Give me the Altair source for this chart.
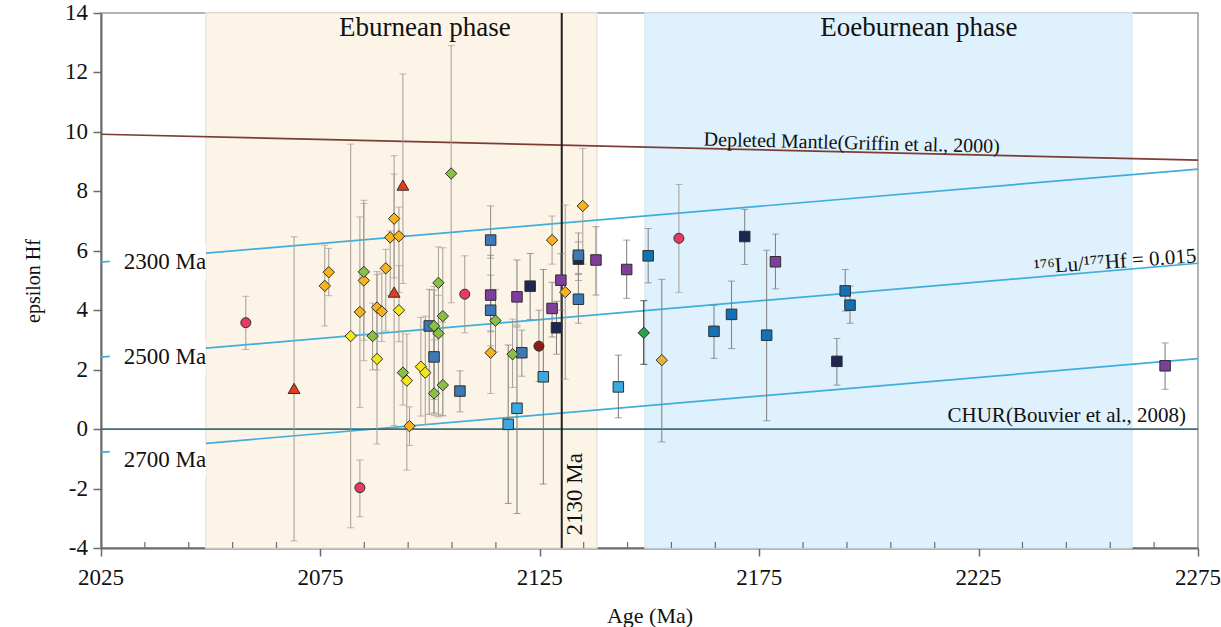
import altair as alt
import pandas as pd

FONT = "Liberation Serif"
W, H = 1097, 535

# ---- axes -------------------------------------------------------------
AGE_DOMAIN = [2025, 2275]
EPS_DOMAIN = [-4, 14]
AGE_TICKS = [2025, 2075, 2125, 2175, 2225, 2275]
AGE_MINOR = [a for a in range(2025, 2276, 10) if a not in AGE_TICKS]
EPS_TICKS = [-4, -2, 0, 2, 4, 6, 8, 10, 12, 14]

# ---- magmatic phases (shaded bands) -----------------------------------
PHASE_NAMES = ["Eburnean phase", "Eoeburnean phase"]
PHASE_START = [2048.9, 2149.0]
PHASE_END = [2138.0, 2259.9]
PHASE_FILL = ["#fdf4e8", "#dff1fc"]
PHASE_EDGE = ["#ece4d9", "#d6e8f2"]
PHASE_LABEL_AGE = [2098.8, 2211.4]
PHASE_LABEL_EPS = [13.5, 13.5]

# ---- reference evolution lines (value at 2025 Ma and at 2275 Ma) ------
REF_NAMES = ["DM", "2300 Ma", "2500 Ma", "2700 Ma", "CHUR"]
REF_EPS_START = [9.92, 5.62, 2.42, -0.78, 0.0]
REF_EPS_END = [9.05, 8.75, 5.58, 2.37, 0.0]
REF_COLOR = ["#7c3d33", "#3eaedb", "#3eaedb", "#3eaedb", "#3d6c7a"]

MODEL_LABELS = ["2300 Ma", "2500 Ma", "2700 Ma"]
MODEL_LABEL_EPS = [5.62, 2.42, -1.04]
MODEL_LABEL_AGE = 2039.6
MODEL_MASK = [2027.0, 2048.9]

BOUNDARY_AGE = [2130]

# ---- zircon data: age, epsilon Hf, upper and lower error -------------
pink_age = [2058.0, 2084.0, 2107.9, 2156.7]
pink_eps = [3.58, -1.97, 4.54, 6.42]
pink_hi = [4.47, -1.04, 5.83, 8.23]
pink_lo = [2.68, -2.95, 3.24, 4.60]

red_age = [2069.0, 2091.8, 2093.8]
red_eps = [1.37, 4.61, 8.21]
red_hi = [6.47, 8.58, 11.95]
red_lo = [-3.76, 0.12, 4.90]

orange_age = [2076.0, 2076.9, 2084.0, 2084.9, 2087.9, 2089.0, 2089.9, 2090.9,
              2091.8, 2092.9, 2095.3, 2113.8, 2127.8, 2130.8, 2134.8]
orange_eps = [4.82, 5.28, 3.94, 5.00, 4.09, 3.96, 5.41, 6.45,
              7.08, 6.49, 0.10, 2.57, 6.36, 4.61, 7.51]
orange_hi = [6.19, 6.08, 7.14, 7.59, 5.30, 5.25, 6.05, 6.67,
             9.20, 7.47, 0.75, 3.27, 7.17, 7.54, 9.44]
orange_lo = [3.47, 4.49, 0.73, 2.30, 1.99, 2.95, 3.30, 4.50,
             5.09, 4.60, -0.55, 1.20, 5.55, 1.68, 5.55]

yellow_age = [2081.9, 2087.9, 2092.9, 2094.7, 2097.9, 2098.9]
yellow_eps = [3.13, 2.36, 4.00, 1.63, 2.10, 1.90]
yellow_hi = [9.59, 5.20, 5.50, 3.20, 3.76, 3.80]
yellow_lo = [-3.32, -0.50, 2.94, -1.38, 0.44, 0.15]

green_age = [2084.9, 2086.9, 2093.8, 2100.9, 2100.9, 2101.9, 2101.9, 2102.9,
             2102.9, 2104.8, 2114.9, 2118.8]
green_eps = [5.29, 3.13, 1.90, 3.47, 1.20, 3.22, 4.92, 3.80,
             1.48, 8.60, 3.65, 2.52]
green_hi = [7.70, 4.24, 3.30, 4.80, 3.00, 4.50, 6.13, 6.10,
            3.60, 12.90, 4.70, 3.70]
green_lo = [2.99, 1.99, 0.81, 1.00, 0.45, 0.50, 0.41, 0.45,
            0.45, 4.25, 2.60, 1.40]

navy_age = [2122.8, 2128.8, 2133.8, 2171.7, 2192.7]
navy_eps = [4.81, 3.41, 5.72, 6.48, 2.28]
navy_hi = [5.91, 4.30, 6.30, 7.39, 3.05]
navy_lo = [3.69, 2.52, 5.20, 5.54, 1.48]

steel_age = [2099.8, 2100.9, 2106.8, 2113.8, 2113.8, 2120.9, 2133.8, 2133.8]
steel_eps = [3.47, 2.43, 1.28, 6.36, 4.00, 2.57, 5.85, 4.37]
steel_hi = [4.70, 4.68, 1.96, 7.51, 5.18, 3.33, 6.60, 5.24]
steel_lo = [0.50, 0.54, 0.58, 5.75, 2.80, 1.78, 5.00, 3.56]

purple_age = [2113.8, 2119.8, 2127.8, 2129.8, 2137.8, 2144.8, 2178.7, 2267.5]
purple_eps = [4.51, 4.45, 4.06, 5.01, 5.69, 5.37, 5.63, 2.13]
purple_hi = [5.85, 5.69, 4.94, 5.90, 6.81, 6.36, 6.56, 2.90]
purple_lo = [3.30, 3.50, 3.10, 4.00, 4.51, 4.40, 4.72, 1.34]

light_age = [2117.8, 2119.8, 2125.8, 2142.9]
light_eps = [0.16, 0.70, 1.76, 1.42]
light_hi = [2.83, 3.44, 5.37, 2.49]
light_lo = [-2.50, -2.84, -1.85, 0.38]

darkred_age = [2124.8]
darkred_eps = [2.79]
darkred_hi = [4.00]
darkred_lo = [1.60]

blue_age = [2149.7, 2164.7, 2168.7, 2176.7, 2194.6, 2195.7]
blue_eps = [5.83, 3.29, 3.86, 3.16, 4.65, 4.17]
blue_hi = [6.75, 4.17, 4.98, 6.02, 5.37, 4.81]
blue_lo = [4.92, 2.38, 2.71, 0.28, 3.97, 3.56]

dkgreen_age = [2148.7]
dkgreen_eps = [3.24]
dkgreen_hi = [4.32]
dkgreen_lo = [2.18]

gold_age = [2152.8]
gold_eps = [2.32]
gold_hi = [5.04]
gold_lo = [-0.43]

# group: (shape, fill colour, error-bar colour, arrays)
GROUPS = [
    ("circle", "#e63a62", "#a29c95", pink_age, pink_eps, pink_hi, pink_lo),
    ("circle", "#8e1d18", "#8f8a85", darkred_age, darkred_eps, darkred_hi, darkred_lo),
    ("triangle-up", "#e33c1f", "#a29c95", red_age, red_eps, red_hi, red_lo),
    ("diamond", "#f8b31c", "#a29c95", orange_age, orange_eps, orange_hi, orange_lo),
    ("diamond", "#f4e61e", "#a29c95", yellow_age, yellow_eps, yellow_hi, yellow_lo),
    ("diamond", "#8abf46", "#a29c95", green_age, green_eps, green_hi, green_lo),
    ("diamond", "#29a24b", "#1a1a1a", dkgreen_age, dkgreen_eps, dkgreen_hi, dkgreen_lo),
    ("diamond", "#e6b43a", "#7d7d7d", gold_age, gold_eps, gold_hi, gold_lo),
    ("square", "#1e2654", "#7d7d7d", navy_age, navy_eps, navy_hi, navy_lo),
    ("square", "#3c79b6", "#8f8a85", steel_age, steel_eps, steel_hi, steel_lo),
    ("square", "#7d3f9b", "#7d7d7d", purple_age, purple_eps, purple_hi, purple_lo),
    ("square", "#3aa9de", "#777777", light_age, light_eps, light_hi, light_lo),
    ("square", "#1372b7", "#7d7d7d", blue_age, blue_eps, blue_hi, blue_lo),
]

rows = []
for shape, fill, bar, ages, eps, his, los in GROUPS:
    for a, e, h, l in zip(ages, eps, his, los):
        rows.append({"age": a, "eps": e, "hi": h, "lo": l,
                     "shape": shape, "fill": fill, "bar": bar})
pts = pd.DataFrame(rows)

bands = pd.DataFrame({"name": PHASE_NAMES, "start": PHASE_START, "end": PHASE_END,
                      "fill": PHASE_FILL, "edge": PHASE_EDGE,
                      "lo": EPS_DOMAIN[0], "hi": EPS_DOMAIN[1],
                      "lab_age": PHASE_LABEL_AGE, "lab_eps": PHASE_LABEL_EPS})
refs = pd.DataFrame({"name": REF_NAMES, "a0": AGE_DOMAIN[0], "a1": AGE_DOMAIN[1],
                     "e0": REF_EPS_START, "e1": REF_EPS_END, "color": REF_COLOR})
model_lab = pd.DataFrame({"label": MODEL_LABELS, "eps": MODEL_LABEL_EPS,
                          "age": MODEL_LABEL_AGE,
                          "m0": MODEL_MASK[0], "m1": MODEL_MASK[1]})
model_lab["e_lo"] = model_lab["eps"] - 0.6
model_lab["e_hi"] = model_lab["eps"] + 0.6
minor = pd.DataFrame({"age": AGE_MINOR})
boundary = pd.DataFrame({"age": BOUNDARY_AGE, "lo": EPS_DOMAIN[0], "hi": EPS_DOMAIN[1]})
x_tick_df = pd.DataFrame({"v": AGE_TICKS, "t": [str(v) for v in AGE_TICKS]})
y_tick_df = pd.DataFrame({"v": EPS_TICKS, "t": [str(v) for v in EPS_TICKS]})

xs = alt.Scale(domain=AGE_DOMAIN, nice=False, zero=False)
ys = alt.Scale(domain=EPS_DOMAIN, nice=False, zero=False)

# axes keep their lines, ticks and titles; tick labels are drawn as text below
x_axis = alt.Axis(values=AGE_TICKS, labels=False, grid=False,
                  tickSize=8, tickWidth=1.5, tickColor="#6b6b6b",
                  domainColor="#6b6b6b", domainWidth=2,
                  title="Age (Ma)", titleFont=FONT, titleFontSize=22,
                  titleFontWeight="normal", titleColor="#111111",
                  titleBaseline="middle", titleY=67)
y_axis = alt.Axis(values=EPS_TICKS, labels=False, grid=False,
                  tickSize=8, tickWidth=1.5, tickColor="#6b6b6b",
                  domainColor="#6b6b6b", domainWidth=2,
                  title="epsilon Hf", titleFont=FONT, titleFontSize=20,
                  titleFontWeight="normal", titleColor="#111111",
                  titleAngle=270, titleAlign="center", titleBaseline="middle",
                  titleX=-68, titleY=H / 2)


def X(field):
    return alt.X(field, type="quantitative", scale=xs, axis=x_axis)


def Y(field):
    return alt.Y(field, type="quantitative", scale=ys, axis=y_axis)


band_layer = alt.Chart(bands).mark_rect(strokeWidth=1.5).encode(
    x=X("start"), x2="end", y=Y("lo"), y2="hi",
    fill=alt.Fill("fill:N", scale=None), stroke=alt.Stroke("edge:N", scale=None))

band_text = alt.Chart(bands).mark_text(
    font=FONT, fontSize=27, color="#111111", baseline="middle", align="center"
).encode(x=X("lab_age"), y=Y("lab_eps"), text="name:N")

ref_layer = alt.Chart(refs).mark_rule(strokeWidth=1.7).encode(
    x=X("a0"), x2="a1", y=Y("e0"), y2="e1", color=alt.Color("color:N", scale=None))

boundary_layer = alt.Chart(boundary).mark_rule(strokeWidth=2, color="#1f1f1f").encode(
    x=X("age"), y=Y("lo"), y2="hi")

mask_layer = alt.Chart(model_lab).mark_rect(color="white").encode(
    x=X("m0"), x2="m1", y=Y("e_lo"), y2="e_hi")

model_text = alt.Chart(model_lab).mark_text(
    font=FONT, fontSize=23, color="#111111", align="center", baseline="middle"
).encode(x=X("age"), y=Y("eps"), text="label:N")

minor_ticks = alt.Chart(minor).mark_rule(color="#6b6b6b", strokeWidth=1.2).encode(
    x=X("age"), y=alt.value(H - 6), y2=alt.value(H))

x_tick_labels = alt.Chart(x_tick_df).mark_text(
    font=FONT, fontSize=23, color="#111111", align="center", baseline="middle"
).encode(x=X("v"), y=alt.value(H + 30), text="t:N")

y_tick_labels = alt.Chart(y_tick_df).mark_text(
    font=FONT, fontSize=23, color="#111111", align="right", baseline="middle"
).encode(x=alt.value(-13), y=Y("v"), text="t:N")

err_rule = alt.Chart(pts).mark_rule(strokeWidth=1).encode(
    x=X("age"), y=Y("lo"), y2="hi", color=alt.Color("bar:N", scale=None))
cap_hi = alt.Chart(pts).mark_tick(orient="horizontal", size=7, thickness=1).encode(
    x=X("age"), y=Y("hi"), color=alt.Color("bar:N", scale=None))
cap_lo = alt.Chart(pts).mark_tick(orient="horizontal", size=7, thickness=1).encode(
    x=X("age"), y=Y("lo"), color=alt.Color("bar:N", scale=None))

MARK_SIZE = {"circle": 100, "triangle-up": 140, "diamond": 130, "square": 110}
point_layers = []
for shp in ["square", "diamond", "circle", "triangle-up"]:
    sub = pts[pts["shape"] == shp]
    point_layers.append(
        alt.Chart(sub).mark_point(shape=shp, filled=True, size=MARK_SIZE[shp],
                                  opacity=1, fillOpacity=1, stroke="#2e2e2e",
                                  strokeWidth=1, strokeOpacity=1).encode(
            x=X("age"), y=Y("eps"), fill=alt.Fill("fill:N", scale=None)))

# annotations along the reference curves
dm_text = alt.Chart(pd.DataFrame({"age": [2196.1], "eps": [9.62],
                                  "t": ["Depleted Mantle(Griffin et al., 2000)"]})).mark_text(
    font=FONT, fontSize=20, color="#111111", angle=1.4, align="center", baseline="middle"
).encode(x=X("age"), y=Y("eps"), text="t:N")

lu_text = alt.Chart(pd.DataFrame({"age": [2256.1], "eps": [5.62],
                                  "t": ["¹⁷⁶Lu/¹⁷⁷Hf = 0.015"]})).mark_text(
    font=FONT, fontSize=21, color="#111111", angle=356, align="center", baseline="middle"
).encode(x=X("age"), y=Y("eps"), text="t:N")

chur_text = alt.Chart(pd.DataFrame({"age": [2245.1], "eps": [0.44],
                                    "t": ["CHUR(Bouvier et al., 2008)"]})).mark_text(
    font=FONT, fontSize=21, color="#111111", align="center", baseline="middle"
).encode(x=X("age"), y=Y("eps"), text="t:N")

boundary_text = alt.Chart(pd.DataFrame({"age": [2133.0], "eps": [-2.19],
                                        "t": ["2130 Ma"]})).mark_text(
    font=FONT, fontSize=23, color="#111111", angle=270, align="center", baseline="middle"
).encode(x=X("age"), y=Y("eps"), text="t:N")

chart = alt.layer(
    band_layer, band_text, ref_layer, boundary_layer, mask_layer, model_text,
    minor_ticks, err_rule, cap_hi, cap_lo, *point_layers,
    dm_text, lu_text, chur_text, boundary_text, x_tick_labels, y_tick_labels
).properties(
    width=W, height=H,
    padding={"left": 101, "top": 13, "right": 23, "bottom": 79},
    autosize=alt.AutoSizeParams(type="none"),
    background="white",
).configure_view(stroke="#9a9a9a", strokeWidth=1.5)

chart.save("out.html", embed_options={"renderer": "svg", "actions": False})
